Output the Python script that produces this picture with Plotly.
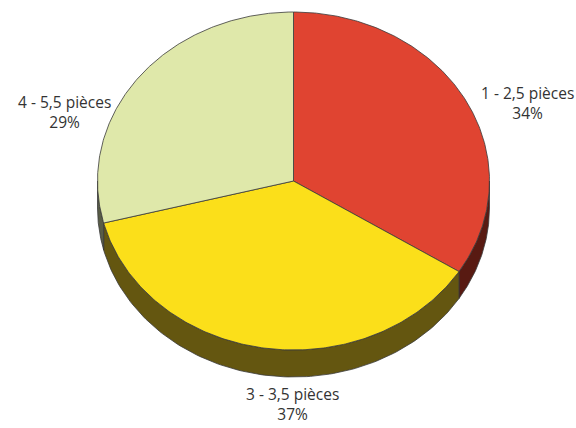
import numpy as np
import plotly.graph_objects as go

# ---- data ----
categories = ["1 - 2,5 pièces", "3 - 3,5 pièces", "4 - 5,5 pièces"]
shares = [34, 37, 29]

# ---- style ----
top_colors = ["#E04431", "#FBDF1A", "#DFE8AA"]
side_colors = ["#581A12", "#645610", "#585C46"]
edge_color = "#3a3a3a"
W, H = 576, 428
CX, CY = 293.5, 181.0      # pie centre (pixel space)
RX, RY = 196.0, 169.0      # ellipse radii
DEPTH = 27.0               # thickness of the 3D rim
label_pos = [(527, 103, "center"), (292, 404, "center"), (64, 112, "center")]

def pt(theta_deg, dy=0.0):
    t = np.radians(theta_deg)
    return CX + RX * np.sin(t), CY - RY * np.cos(t) + dy

fig = go.Figure()

total = float(sum(shares))
bounds = np.cumsum([0] + shares) / total * 360.0

# side (rim) pieces: only the front half (90..270 deg) is visible
for i in range(len(shares)):
    a0, a1 = max(bounds[i], 90.0), min(bounds[i + 1], 270.0)
    if a1 <= a0:
        continue
    th = np.linspace(a0, a1, 120)
    xs_t, ys_t = pt(th)
    xs_b, ys_b = pt(th[::-1], DEPTH)
    xs = np.concatenate([xs_t, xs_b, xs_t[:1]])
    ys = np.concatenate([ys_t, ys_b, ys_t[:1]])
    fig.add_trace(go.Scatter(x=xs, y=ys, mode="lines", fill="toself",
                             fillcolor=side_colors[i],
                             line=dict(color=edge_color, width=0.8),
                             hoverinfo="skip", showlegend=False))

# top faces
for i in range(len(shares)):
    th = np.linspace(bounds[i], bounds[i + 1], 200)
    xs_e, ys_e = pt(th)
    xs = np.concatenate([[CX], xs_e, [CX]])
    ys = np.concatenate([[CY], ys_e, [CY]])
    fig.add_trace(go.Scatter(x=xs, y=ys, mode="lines", fill="toself",
                             fillcolor=top_colors[i],
                             line=dict(color=edge_color, width=0.8),
                             name=categories[i], hoverinfo="name",
                             showlegend=False))

# labels
for i, (lx, ly, al) in enumerate(label_pos):
    fig.add_annotation(x=lx, y=ly, xref="x", yref="y",
                       text=f"{categories[i]}<br>{shares[i]}%",
                       showarrow=False, align=al,
                       font=dict(family="Open Sans, Noto Sans, sans-serif",
                                 size=15.5, color="#333333"))

fig.update_layout(
    width=W, height=H,
    margin=dict(l=0, r=0, t=0, b=0),
    paper_bgcolor="white", plot_bgcolor="white",
    xaxis=dict(range=[0, W], visible=False, fixedrange=True),
    yaxis=dict(range=[H, 0], visible=False, fixedrange=True),
)

fig.write_html("out.html")
